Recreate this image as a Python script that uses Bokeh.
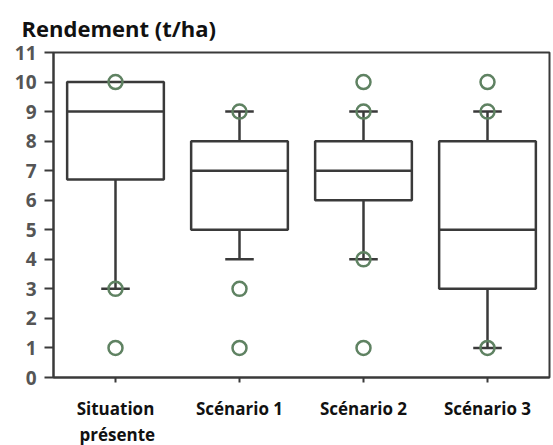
from bokeh.plotting import figure
from bokeh.models import FactorRange, Range1d, ColumnDataSource, Title
from bokeh.transform import dodge
from bokeh.embed import file_html
from bokeh.resources import INLINE

# ---- data ----
categories = ["Situation", "Scénario 1", "Scénario 2", "Scénario 3"]
tick_labels = ["Situation", "Scénario 1", "Scénario 2", "Scénario 3"]
second_line = "présente"
q1 = [6.7, 5, 6, 3]
median = [9, 7, 7, 5]
q3 = [10, 8, 8, 8]
whisker_low = [3, 4, 4, 1]
whisker_high = [10, 9, 9, 9]
outlier_cat = ["Situation", "Situation", "Situation",
               "Scénario 1", "Scénario 1", "Scénario 1",
               "Scénario 2", "Scénario 2", "Scénario 2", "Scénario 2",
               "Scénario 3", "Scénario 3", "Scénario 3"]
outlier_val = [10, 3, 1,
               9, 3, 1,
               10, 9, 4, 1,
               10, 9, 1]
y_ticks = list(range(0, 12))

LINE = "#3a3a3a"
CIRCLE = "#5f8262"

p = figure(width=553, height=445, x_range=FactorRange(*categories),
           y_range=Range1d(0, 11), output_backend="svg", toolbar_location=None,
           min_border_left=53, min_border_right=4, min_border_top=51,
           min_border_bottom=68)
p.grid.visible = False
p.outline_line_color = LINE
p.outline_line_width = 2

# title
p.title.text = "Rendement (t/ha)"
p.title.text_font = "Open Sans"
p.title.text_font_style = "bold"
p.title.text_font_size = "22px"
p.title.text_color = "#111111"
p.title.align = "left"
p.title.offset = -32
p.title.standoff = 20

# x axis
xa = p.xaxis[0]
xa.major_label_overrides = dict(zip(categories, tick_labels))
xa.major_label_text_font = "Open Sans"
xa.major_label_text_font_style = "bold"
xa.major_label_text_font_size = "17px"
xa.major_label_text_color = "#111111"
xa.major_label_standoff = 14
xa.major_tick_out = 5
xa.major_tick_in = 0
xa.major_tick_line_color = LINE
xa.major_tick_line_width = 2
xa.axis_line_color = LINE
xa.axis_line_width = 2

# second line of the first category label
sub = Title(text=second_line, align="left", offset=26, standoff=-4,
            text_font="Open Sans", text_font_style="bold",
            text_font_size="17px", text_color="#111111")
p.add_layout(sub, "below")

# y axis
ya = p.yaxis[0]
ya.ticker = y_ticks
ya.major_label_text_font = "Open Sans"
ya.major_label_text_font_style = "bold"
ya.major_label_text_font_size = "19px"
ya.major_label_text_color = "#555555"
ya.major_label_standoff = 8
ya.major_tick_out = 9
ya.major_tick_in = 0
ya.minor_tick_line_color = None
ya.major_tick_line_color = LINE
ya.major_tick_line_width = 2
ya.axis_line_color = LINE
ya.axis_line_width = 2

src = ColumnDataSource(dict(cat=categories, q1=q1, med=median, q3=q3,
                            lo=whisker_low, hi=whisker_high))

# whiskers
p.segment(x0="cat", y0="q3", x1="cat", y1="hi", source=src,
          line_color=LINE, line_width=2.5)
p.segment(x0="cat", y0="q1", x1="cat", y1="lo", source=src,
          line_color=LINE, line_width=2.5)

# caps (only where whisker extends beyond box)
cap_src = ColumnDataSource(dict(
    cat=[c for c, a, b in zip(categories, q3, whisker_high) if b > a] +
        [c for c, a, b in zip(categories, q1, whisker_low) if b < a],
    y=[b for a, b in zip(q3, whisker_high) if b > a] +
      [b for a, b in zip(q1, whisker_low) if b < a]))
p.segment(x0=dodge("cat", -0.115, range=p.x_range), y0="y",
          x1=dodge("cat", 0.115, range=p.x_range), y1="y", source=cap_src,
          line_color=LINE, line_width=2.5)

# boxes
p.vbar(x="cat", top="q3", bottom="q1", width=0.78, source=src,
       fill_color="white", line_color=LINE, line_width=2.5)
p.segment(x0=dodge("cat", -0.39, range=p.x_range), y0="med",
          x1=dodge("cat", 0.39, range=p.x_range), y1="med", source=src,
          line_color=LINE, line_width=2.5)

# outliers
p.scatter(x=outlier_cat, y=outlier_val, marker="circle", size=14,
          fill_color=None, line_color=CIRCLE, line_width=2.5)

open("out.html", "w").write(file_html(p, INLINE))
